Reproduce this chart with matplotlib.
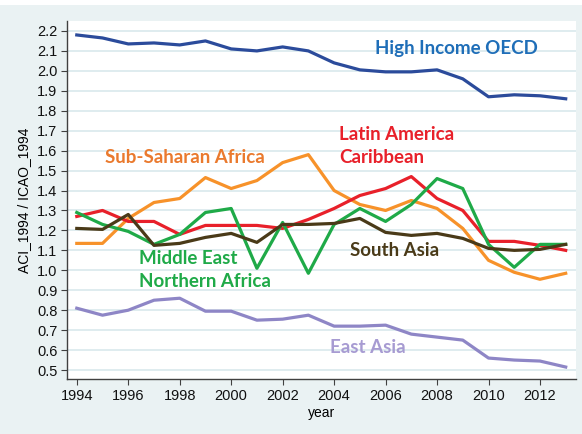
import matplotlib.pyplot as plt
from matplotlib.patches import Rectangle

years = list(range(1994, 2014))

high_income_oecd = [2.18, 2.165, 2.135, 2.14, 2.13, 2.15, 2.11, 2.10, 2.12, 2.10,
                    2.04, 2.005, 1.995, 1.995, 2.005, 1.96, 1.87, 1.88, 1.875, 1.86]
sub_saharan = [1.135, 1.135, 1.26, 1.34, 1.36, 1.465, 1.41, 1.45, 1.54, 1.58,
               1.40, 1.33, 1.30, 1.35, 1.31, 1.21, 1.05, 0.99, 0.955, 0.985]
latin_america = [1.27, 1.30, 1.245, 1.245, 1.18, 1.225, 1.225, 1.225, 1.21, 1.255,
                 1.31, 1.375, 1.41, 1.47, 1.36, 1.30, 1.145, 1.145, 1.125, 1.10]
mena = [1.29, 1.23, 1.195, 1.13, 1.18, 1.29, 1.31, 1.01, 1.24, 0.985,
        1.23, 1.31, 1.245, 1.33, 1.46, 1.41, 1.13, 1.015, 1.13, 1.13]
south_asia = [1.21, 1.205, 1.28, 1.125, 1.135, 1.165, 1.185, 1.14, 1.23, 1.23,
              1.235, 1.26, 1.19, 1.175, 1.185, 1.16, 1.11, 1.10, 1.105, 1.13]
east_asia = [0.81, 0.775, 0.80, 0.85, 0.86, 0.795, 0.795, 0.75, 0.755, 0.775,
             0.72, 0.72, 0.725, 0.68, 0.665, 0.65, 0.56, 0.55, 0.545, 0.515]

bg = '#EAF2F3'
fig = plt.figure(figsize=(5.82, 4.34), dpi=100, facecolor=bg)
fig.patches.append(Rectangle((0, 1 - 5/434), 1, 5/434, transform=fig.transFigure,
                             facecolor='white', edgecolor='none', zorder=0))
ax = fig.add_axes([67/582, 1 - 379/434, (576 - 67)/582, (379 - 21)/434])

lw = 2.3
ax.plot(years, east_asia, color='#8E86C6', lw=lw)
ax.plot(years, sub_saharan, color='#F7922A', lw=lw)
ax.plot(years, latin_america, color='#E8202A', lw=lw)
ax.plot(years, mena, color='#1FAA48', lw=lw)
ax.plot(years, south_asia, color='#4A3A18', lw=lw)
ax.plot(years, high_income_oecd, color='#2B4B9B', lw=lw)

lab = dict(family='Lato', fontweight='bold', fontsize=13.5, va='center', ha='left')
ax.text(2005.6, 2.11, 'High Income OECD', color='#1F6EB8', **lab)
ax.text(1995.1, 1.566, 'Sub-Saharan Africa', color='#EA7A2E', **lab)
ax.text(2004.2, 1.623, 'Latin America\nCaribbean', color='#E8202A', linespacing=1.45, **lab)
ax.text(1996.4, 1.0, 'Middle East\nNorthern Africa', color='#1FAA48', linespacing=1.45, **lab)
ax.text(2004.6, 1.10, 'South Asia', color='#4A3A18', **lab)
ax.text(2003.85, 0.615, 'East Asia', color='#A79BD2', **lab)

ax.set_xlim(1993.62, 2013.4)
ax.set_ylim(0.455, 2.25)
ax.set_xticks(range(1994, 2014, 2))
ax.set_yticks([round(0.5 + 0.1 * i, 1) for i in range(18)])
ax.set_yticklabels([f'{0.5 + 0.1 * i:.1f}' for i in range(18)])
ax.grid(axis='y', color='#DFECEF', lw=1.4)
ax.set_axisbelow(True)
for s in ['top', 'right']:
    ax.spines[s].set_visible(False)
for s in ['left', 'bottom']:
    ax.spines[s].set_color('#404040')
    ax.spines[s].set_linewidth(1.0)
ax.tick_params(labelsize=10.5, length=4, color='#404040', labelcolor='#111111', pad=3,
               labelfontfamily='Liberation Sans')
ax.set_xlabel('year', fontsize=10, family='Liberation Sans', labelpad=2)
ax.set_ylabel('ACI_1994 / ICAO_1994', fontsize=10, family='Liberation Sans', labelpad=4)

plt.savefig('out.png', dpi=100, facecolor=bg)
